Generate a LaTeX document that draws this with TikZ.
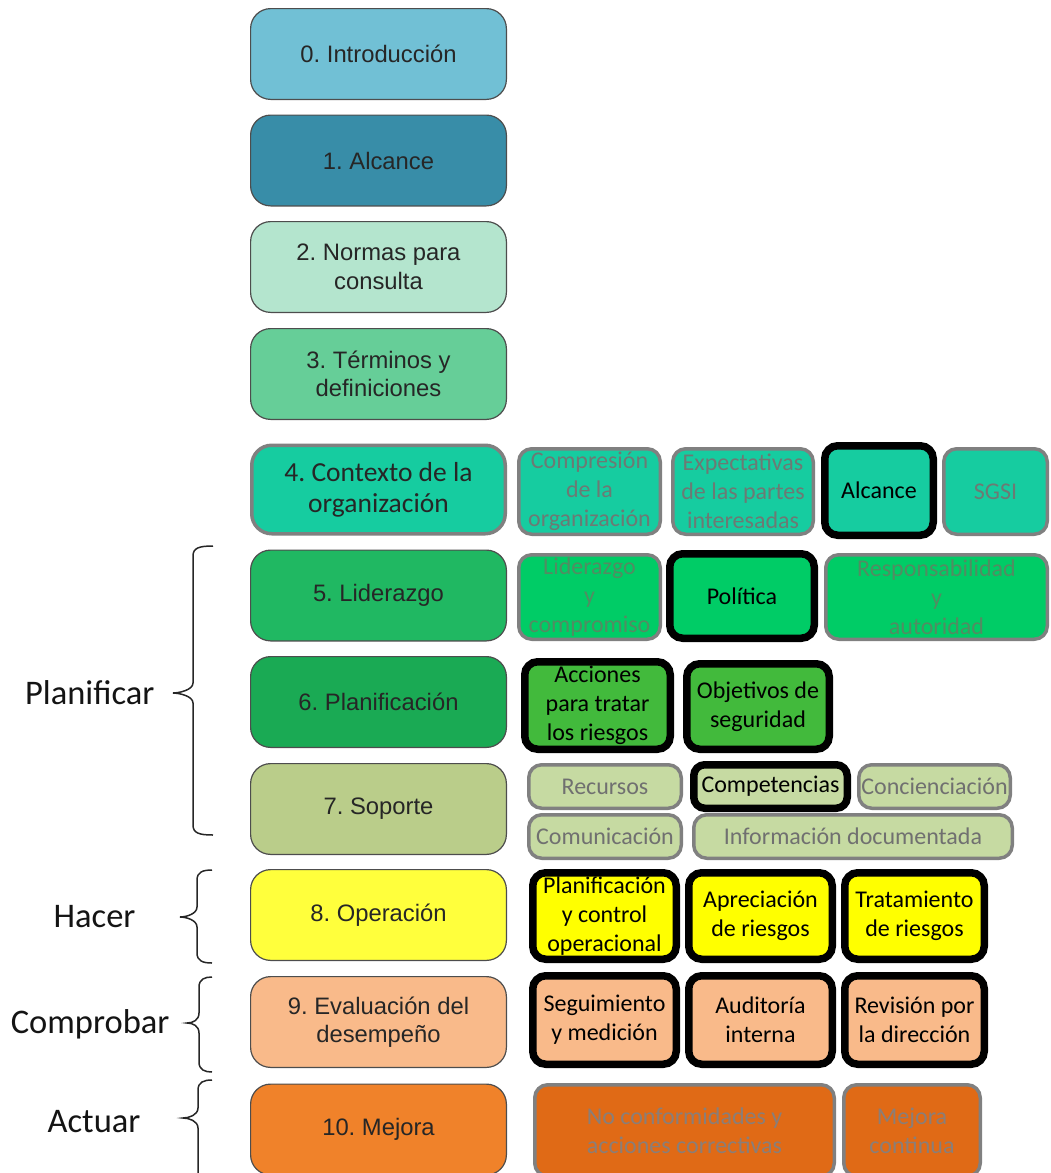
\documentclass[tikz,border=0pt]{standalone}
\usepackage{fontspec}
\usepackage{tikz}
\newfontfamily\arialf{Liberation Sans}
\newfontfamily\calibf{Carlito}
\frenchspacing
\definecolor{cintro}{RGB}{113,192,213}
\definecolor{calcance}{RGB}{56,141,168}
\definecolor{cnormas}{RGB}{180,229,206}
\definecolor{cterm}{RGB}{102,206,152}
\definecolor{ccontexto}{RGB}{22,204,160}
\definecolor{clider}{RGB}{32,184,98}
\definecolor{cliders}{RGB}{0,204,102}
\definecolor{cplan}{RGB}{26,170,84}
\definecolor{cplans}{RGB}{66,186,60}
\definecolor{csoporte}{RGB}{186,205,138}
\definecolor{csoportes}{RGB}{198,218,162}
\definecolor{coper}{RGB}{255,255,60}
\definecolor{copers}{RGB}{255,255,0}
\definecolor{ceval}{RGB}{249,186,138}
\definecolor{cmejora}{RGB}{240,130,42}
\definecolor{cmejoras}{RGB}{224,106,22}
\definecolor{txtdark}{RGB}{38,38,38}
\definecolor{clauseline}{RGB}{77,77,77}
\definecolor{subgray}{RGB}{128,128,128}
\definecolor{fadefour}{RGB}{108,122,116}
\definecolor{fadefive}{RGB}{82,140,98}
\definecolor{fadeseven}{RGB}{112,112,112}
\definecolor{fadeten}{RGB}{138,126,120}
% brace: ends x, body x, tip x, top y, tip y, bottom y
\newcommand{\phasebrace}[6]{%
  \draw[brc] (#1,#4) .. controls (#2+6,#4) and (#2,#4+2) .. (#2,#4+10)
    -- (#2,#5-10) .. controls (#2,#5-3) and (#3+6,#5) .. (#3,#5)
    .. controls (#3+6,#5) and (#2,#5+3) .. (#2,#5+10)
    -- (#2,#6-10) .. controls (#2,#6-2) and (#2+6,#6) .. (#1,#6);}

\begin{document}
\begin{tikzpicture}[x=1pt,y=-1pt,
  clause/.style={draw=clauseline,line width=1.2pt,rounded corners=20pt,
    minimum width=\bw,minimum height=\bh,align=center,text=txtdark,
    font=\arialf\fontsize{23.8}{28.5}\selectfont},
  sub/.style={rounded corners=13pt,align=center,inner sep=0pt,
    font=\calibf\fontsize{24}{29}\selectfont},
  faded/.style={sub,draw=subgray,line width=3.5pt},
  keybox/.style={sub,draw=black,line width=7.5pt,text=black},
  phase/.style={anchor=east,text=black!92,font=\calibf\fontsize{34.5}{40}\selectfont},
  brc/.style={line width=1.5pt,black!85}]

  \useasboundingbox (0,0) rectangle (1050,1173);

  % ── left: clauses of the standard ────────────────────────────────
  \def\bw{255.8pt}
  \def\bh{90.8pt}

  \node[clause,fill=cintro] (c0) at (378.5,54) {0. Introducción};
  \node[clause,fill=calcance] (c1) at (378.5,160.5) {1. Alcance};
  \node[clause,fill=cnormas] (c2) at (378.5,267) {2. Normas para\\consulta};
  \node[clause,fill=cterm] (c3) at (378.5,374) {3. Términos y\\definiciones};
  \node[clause,fill=ccontexto,draw=subgray,line width=3.5pt,minimum width=253.5pt,
        minimum height=88.5pt,font=\calibf\fontsize{27.5}{31}\selectfont] (c4) at (378.5,489.5)
    {4. Contexto de la\\organización};
  \node[clause,fill=clider] (c5) at (378.5,595.5) {5. Liderazgo};
  \node[clause,fill=cplan] (c6) at (378.5,702) {6. Planificación};
  \node[clause,fill=csoporte] (c7) at (378.5,809) {7. Soporte};
  \node[clause,fill=coper] (c8) at (378.5,915) {8. Operación};
  \node[clause,fill=ceval] (c9) at (378.5,1022) {9. Evaluación del\\desempeño};
  \node[clause,fill=cmejora] (c10) at (378.5,1129.5) {10. Mejora};

  % ── right: requirements per clause ───────────────────────────────
  % 4
  \node[faded,fill=ccontexto,text=fadefour,minimum width=141.5pt,minimum height=85.5pt]
    (compr) at (589.5,491.5) {Compresión\\de la\\organización};
  \node[faded,fill=ccontexto,text=fadefour,minimum width=140.5pt,minimum height=85.5pt]
    (expect) at (743,491.5) {Expectativas\\de las partes\\interesadas};
  \node[keybox,fill=ccontexto,minimum width=108.5pt,minimum height=89.5pt]
    (alc) at (879,490.5) {Alcance};
  \node[faded,fill=ccontexto,text=fadefour,minimum width=103.5pt,minimum height=85.5pt]
    (sgsi) at (995.5,491.5) {SGSI};

  % 5
  \node[faded,fill=cliders,text=fadefive,minimum width=141.5pt,minimum height=84.5pt]
    (lider) at (589.5,597) {Liderazgo\\y\\compromiso};
  \node[keybox,fill=cliders,minimum width=144.5pt,minimum height=84.5pt]
    (poli) at (742,596) {Política};
  \node[faded,fill=cliders,text=fadefive,minimum width=221.5pt,minimum height=84.5pt]
    (resp) at (936.5,597) {Responsabilidad\\y\\autoridad};

  % 6
  \node[keybox,fill=cplans,minimum width=145.5pt,minimum height=87.5pt]
    (acc) at (597.5,705.5) {Acciones\\para tratar\\los riesgos};
  \node[keybox,fill=cplans,minimum width=142.5pt,minimum height=85.5pt]
    (obj) at (758,706.5) {Objetivos de\\seguridad};

  % 7
  \node[faded,fill=csoportes,text=fadeseven,minimum width=152.5pt,minimum height=43.5pt]
    (recur) at (605,786.5) {Recursos};
  \node[keybox,fill=csoportes,rounded corners=11pt,minimum width=153.5pt,minimum height=43.5pt]
    (compet) at (770.5,786.5) {Competencias};
  \node[faded,fill=csoportes,text=fadeseven,minimum width=151.5pt,minimum height=43.5pt]
    (concien) at (934.5,786.5) {Concienciación};
  \node[faded,fill=csoportes,text=fadeseven,minimum width=152.5pt,minimum height=43.5pt]
    (comun) at (605,836.5) {Comunicación};
  \node[faded,fill=csoportes,text=fadeseven,minimum width=318.5pt,minimum height=43.5pt]
    (info) at (853,836.5) {Información documentada};

  % 8
  \node[keybox,fill=copers,minimum width=143.5pt,minimum height=86.5pt]
    (planop) at (604.5,916) {Planificación\\y control\\operacional};
  \node[keybox,fill=copers,minimum width=143.5pt,minimum height=86.5pt]
    (aprec) at (760.5,916) {Apreciación\\de riesgos};
  \node[keybox,fill=copers,minimum width=139.5pt,minimum height=86.5pt]
    (trat) at (914.5,916) {Tratamiento\\de riesgos};

  % 9
  \node[keybox,fill=ceval,minimum width=143.5pt,minimum height=88.5pt]
    (segui) at (604.5,1020) {Seguimiento\\y medición};
  \node[keybox,fill=ceval,minimum width=143.5pt,minimum height=88.5pt]
    (audit) at (760.5,1020) {Auditoría\\interna};
  \node[keybox,fill=ceval,minimum width=139.5pt,minimum height=88.5pt]
    (revis) at (914.5,1020) {Revisión por\\la dirección};

  % 10
  \node[faded,fill=cmejoras,text=fadeten,minimum width=299.5pt,minimum height=91.5pt]
    (nocon) at (684.5,1130.5) {No conformidades y\\acciones correctivas};
  \node[faded,fill=cmejoras,text=fadeten,minimum width=136.5pt,minimum height=91.5pt]
    (mejc) at (912,1130.5) {Mejora\\continua};

  % ── PDCA braces ──────────────────────────────────────────────────
  \node[phase] (planif) at (158,693) {Planificar};
  \phasebrace{213}{193}{173}{546}{693}{835}

  \node[phase] (hacer) at (139,917) {Hacer};
  \phasebrace{212}{197}{180}{870}{917}{963}

  \node[phase] (compro) at (173,1024) {Comprobar};
  \phasebrace{212}{199}{187}{977}{1023}{1072}

  \node[phase] (actuar) at (144,1122) {Actuar};
  \phasebrace{212}{198}{183}{1080}{1118}{1190}

\end{tikzpicture}
\end{document}
